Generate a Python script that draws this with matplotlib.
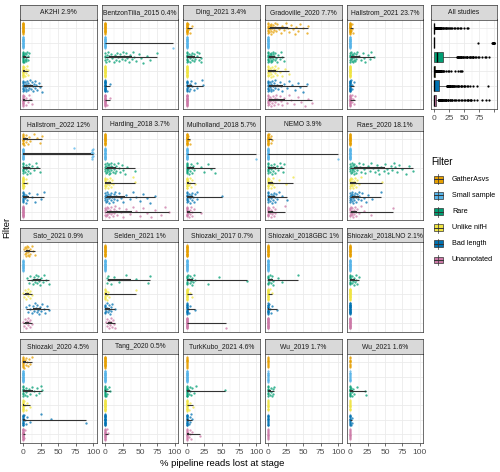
import numpy as np
import matplotlib.pyplot as plt
from matplotlib.patches import Rectangle

plt.rcParams['font.family'] = ['Liberation Sans', 'DejaVu Sans']

# filter stages, top to bottom
filters = ['GatherAsvs', 'Small sample', 'Rare', 'Unlike nifH', 'Bad length', 'Unannotated']
colors = ['#E69F00', '#56B4E9', '#009E73', '#F0E442', '#0072B2', '#CC79A7']

# % reads lost per sample, one list per filter stage
ak2hi = [
    [0] * 25,
    [0] * 25,
    [0] * 12 + [1, 1, 2, 2, 3, 3, 4, 4, 5, 6, 7, 8],
    [0] * 15 + [1, 2, 2, 3, 4, 5, 6, 7],
    [0] * 8 + [1, 1, 2, 2, 3, 3, 4, 5, 5, 6, 7, 8, 9, 10, 11, 12, 13, 14, 15, 16, 17, 18, 20, 22, 24, 26],
    [0] * 15 + [1, 2, 3, 4, 6, 8, 10, 12],
]
bentzon = [
    [0] * 25,
    [0] * 25 + [98],
    [0] * 4 + [1, 2, 3, 4, 5, 6, 8, 10, 12, 14, 15, 17, 18, 20, 22, 24, 25, 27, 28, 30, 32, 34, 35, 38,
               40, 42, 45, 48, 52, 55, 60, 65, 74],
    [0] * 25,
    [0] * 25 + [3, 7],
    [0] * 25 + [2, 7],
]
ding = [
    [0] * 22 + [1, 2, 3, 5, 7],
    [0] * 25,
    [0] * 8 + [1, 2, 3, 4, 5, 6, 7, 8, 9, 10, 11, 12, 14, 15, 17, 18, 20, 21],
    [0] * 25,
    [0] * 10 + [1, 2, 3, 4, 5, 6, 8, 10, 12, 15, 22, 23],
    [0] * 25,
]
gradoville = [
    [0] * 8 + [1, 1, 2, 2, 3, 3, 4, 4, 5, 6, 7, 8, 9, 10, 11, 12, 15, 18, 20, 22, 25, 28, 30, 33, 35, 38,
               40, 43, 45, 50, 55, 57],
    [0] * 25,
    [0] * 8 + [1, 1, 2, 2, 3, 3, 4, 4, 5, 5, 6, 6, 7, 8, 9, 10, 11, 12, 14, 16, 18, 20, 22],
    [0] * 8 + [1, 1, 2, 2, 3, 3, 4, 5, 6, 7, 8, 9, 10, 11, 12, 14, 16, 20, 24, 29],
    [0] * 8 + [1, 1, 2, 2, 3, 3, 4, 5, 6, 7, 8, 9, 10, 12, 14, 16, 18, 20, 23, 26, 30, 34, 38, 42, 46, 50, 56],
    [0] * 8 + [1, 1, 2, 2, 3, 4, 5, 6, 7, 8, 9, 10, 11, 12, 14, 16, 18, 20, 23, 26, 29, 33, 37, 42, 47, 52,
               57, 62],
]
hallstrom21 = [
    [0] * 22 + [1, 2, 3, 4],
    [0] * 25,
    [0] * 6 + [1, 1, 2, 2, 3, 3, 4, 4, 5, 5, 6, 7, 8, 9, 10, 12, 15, 18, 20, 22, 25, 28, 30, 34],
    [0] * 25,
    [0] * 20 + [1, 2, 3, 5],
    [0] * 18 + [1, 2, 3, 4, 5, 7],
]
hallstrom22 = [
    [0] * 12 + [1, 2, 3, 4, 5, 6, 8, 10, 15, 20, 24, 26],
    [0] * 20 + [73, 97, 98, 98, 99, 99, 99, 100, 100, 100],
    [0] * 8 + [1, 2, 3, 4, 5, 6, 7, 8, 9, 10, 12, 15, 18, 20, 24],
    [0] * 22 + [1, 3, 5],
    [0] * 10 + [1, 2, 3, 4, 5, 8, 12, 16, 20, 25, 30],
    [0] * 25,
]
harding = [
    [0] * 25,
    [0] * 25,
    [0] * 4 + [1, 1, 2, 2, 3, 3, 4, 4, 5, 5, 6, 6, 7, 7, 8, 8, 9, 10, 11, 12, 13, 14, 15, 16, 18, 20, 22,
               24, 26, 28, 31, 43],
    [0] * 8 + [1, 1, 2, 3, 4, 5, 6, 7, 8, 9, 10, 11, 40, 43],
    [0] * 4 + [1, 1, 2, 2, 3, 3, 4, 5, 6, 7, 8, 9, 10, 11, 12, 13, 14, 15, 17, 20, 23, 26, 30, 35, 40, 45,
               50, 55, 60, 65, 72],
    [0] * 4 + [1, 1, 2, 2, 3, 3, 4, 5, 6, 7, 8, 9, 10, 11, 12, 13, 14, 15, 17, 20, 23, 26, 30, 35, 40, 45,
               50, 55, 60, 66, 72, 80, 86, 92],
]
mulholland = [
    [0] * 22 + [1, 2, 3, 5],
    [0] * 25 + [100],
    [0] * 10 + [1, 2, 3, 4, 5, 6, 7, 8, 9, 10, 15, 20, 25, 30, 35, 40],
    [0] * 12 + [1, 2, 3, 4, 5, 6, 8, 12],
    [0] * 8 + [1, 2, 3, 4, 5, 6, 7, 8, 9, 10, 12, 14, 15, 51],
    [0] * 10 + [1, 2, 3, 4, 5, 6, 7, 8, 10, 20],
]
nemo = [
    [0] * 20 + [1, 2, 3, 4, 5],
    [0] * 25 + [100],
    [0] * 8 + [1, 2, 3, 4, 5, 6, 7, 8, 9, 10, 12, 14, 16, 18, 21, 23],
    [0] * 10 + [1, 2, 3, 4, 5, 6, 7, 8, 15, 25, 35],
    [0] * 8 + [1, 2, 3, 4, 5, 6, 7, 8, 9, 10, 11, 12, 15, 20, 26],
    [0] * 10 + [1, 2, 3, 4, 5, 6, 7, 8, 9, 10, 24],
]
raes = [
    [0] * 25,
    [0] * 25,
    [0] * 4 + [1, 1, 2, 2, 3, 3, 4, 4, 5, 5, 6, 6, 7, 8, 9, 10, 12, 14, 16, 18, 20, 22, 25, 28, 30, 33, 35,
               38, 40, 42, 45, 48, 50, 53, 55, 58, 60, 63, 65, 68, 70, 75, 80, 85, 91],
    [0] * 6 + [1, 1, 2, 2, 3, 3, 4, 5, 6, 7, 8, 9, 10, 12, 15, 46],
    [0] * 5 + [1, 1, 2, 2, 3, 3, 4, 4, 5, 6, 7, 8, 9, 10, 11, 12, 13, 15, 17, 20, 23, 26, 31, 45],
    [0] * 6 + [1, 1, 2, 2, 3, 3, 4, 5, 6, 7, 8, 9, 10, 12, 15, 20, 30, 62],
]
sato = [
    [1, 2, 2, 3, 3, 4, 4, 5, 5, 6, 6, 7, 8, 9, 10, 12, 14, 16],
    [0] * 20,
    [5, 8, 10, 12, 13, 15, 16, 18, 19, 20, 21, 22, 24, 25, 28, 30, 33, 36],
    [0, 1, 2, 3, 4, 5, 6, 7, 8, 9, 10, 12],
    [4, 6, 8, 10, 12, 14, 15, 16, 18, 19, 20, 21, 22, 24, 25, 27, 29, 31, 34, 37],
    [0, 1, 2, 3, 4, 5, 6, 7, 8, 9, 10, 12],
]
selden = [
    [0] * 25,
    [0] * 25,
    [2, 3, 4, 5, 8, 12, 20, 30, 45, 62, 65],
    [0] * 10 + [1, 2, 3, 4, 5, 45],
    [0] * 6 + [1, 2, 3, 4, 5, 6, 7, 8, 9, 10, 14],
    [1, 2, 3, 4, 5, 6, 7, 8, 9, 10, 11, 12, 14],
]
shiozaki17 = [
    [0] * 25,
    [0] * 25,
    [0] * 6 + [1, 2, 3, 4, 5, 6, 7, 8, 9, 10, 12, 31, 47, 86],
    [0] * 20 + [2, 4, 7],
    [0] * 15 + [1, 2, 3, 5, 12],
    [0] * 25 + [57],
]
shiozaki18g = [
    [0] * 25,
    [0] * 25,
    [0] * 6 + [1, 2, 3, 4, 5, 6, 7, 14, 20, 43],
    [0] * 20 + [2, 5],
    [0] * 15 + [1, 2, 3, 5, 12],
    [0] * 25,
]
shiozaki18l = [
    [0] * 25,
    [0] * 25,
    [0] * 8 + [1, 2, 3, 4, 5, 6, 7, 8, 9, 10, 12],
    [0] * 25,
    [0] * 25,
    [0] * 25,
]
shiozaki20 = [
    [0] * 12 + [1, 2, 3, 4, 5, 6, 8, 10, 12],
    [0] * 25,
    [0] * 8 + [1, 2, 3, 4, 5, 8, 10, 12, 15, 18, 20, 22, 25, 26],
    [0] * 15 + [1, 2, 3, 5, 9],
    [0] * 15 + [1, 2, 3, 5, 9, 25, 40, 90],
    [0] * 22 + [1, 2],
]
tang = [
    [0] * 25,
    [0] * 25,
    [0] * 12 + [1, 2, 3, 5, 7],
    [0] * 25,
    [0] * 25,
    [0] * 20 + [2, 4],
]
turkkubo = [
    [0] * 14,
    [0] * 25,
    [0] * 12 + [1, 2, 3, 4, 5, 6, 8, 10, 13, 55],
    [0] * 15 + [1, 2, 3, 4, 9],
    [0] * 15 + [1, 2, 3, 4, 5, 6, 8],
    [0] * 12 + [1, 2, 3, 4, 5, 6, 8, 19],
]
wu19 = [
    [0] * 12,
    [0] * 14,
    [0] * 8 + [1, 2, 3, 4, 5, 6, 7, 8],
    [0] * 12,
    [0] * 14,
    [0] * 12,
]
wu21 = [
    [0] * 10,
    [0] * 12,
    [0] * 10 + [1, 2, 3, 4, 5, 10, 21, 23],
    [0] * 12,
    [0] * 12 + [1, 2, 3],
    [0] * 12,
]

studies = [
    ('AK2HI 2.9%', ak2hi), ('BentzonTilia_2015 0.4%', bentzon), ('Ding_2021 3.4%', ding),
    ('Gradoville_2020 7.7%', gradoville), ('Hallstrom_2021 23.7%', hallstrom21),
    ('Hallstrom_2022 12%', hallstrom22), ('Harding_2018 3.7%', harding),
    ('Mulholland_2018 5.7%', mulholland), ('NEMO 3.9%', nemo), ('Raes_2020 18.1%', raes),
    ('Sato_2021 0.9%', sato), ('Selden_2021 1%', selden), ('Shiozaki_2017 0.7%', shiozaki17),
    ('Shiozaki_2018GBC 1%', shiozaki18g), ('Shiozaki_2018LNO 2.1%', shiozaki18l),
    ('Shiozaki_2020 4.5%', shiozaki20), ('Tang_2020 0.5%', tang), ('TurkKubo_2021 4.6%', turkkubo),
    ('Wu_2019 1.7%', wu19), ('Wu_2021 1.6%', wu21),
]

W, H = 500, 472
fig = plt.figure(figsize=(W / 100, H / 100), dpi=100)


def px_axes(x, y, w, h):
    """Axes placed with pixel coords measured from the top-left corner."""
    return fig.add_axes([x / W, 1 - (y + h) / H, w / W, h / H])


def make_strip(x, y, w, h, label):
    s = px_axes(x, y, w, h)
    s.set_facecolor('#D9D9D9')
    s.set_xticks([])
    s.set_yticks([])
    for sp in s.spines.values():
        sp.set_color('#333333')
        sp.set_linewidth(0.5)
    s.text(0.5, 0.45, label, ha='center', va='center', fontsize=4.9, color='#1A1A1A',
           transform=s.transAxes)


def style_panel(ax, bottom_axis, ticklabels=None):
    ax.set_xlim(-5, 105)
    ax.set_ylim(-0.6, 5.6)
    ax.set_xticks([0, 25, 50, 75, 100])
    if ticklabels is not None:
        ax.set_xticklabels(ticklabels)
    ax.set_xticks([12.5, 37.5, 62.5, 87.5], minor=True)
    ax.set_yticks(range(6))
    ax.grid(which='major', color='#EBEBEB', lw=0.6)
    ax.grid(which='minor', axis='x', color='#EBEBEB', lw=0.3)
    ax.set_axisbelow(True)
    for sp in ax.spines.values():
        sp.set_color('#333333')
        sp.set_linewidth(0.5)
    ax.tick_params(axis='y', left=False, labelleft=False)
    ax.tick_params(axis='x', which='minor', bottom=False)
    if bottom_axis:
        ax.tick_params(axis='x', length=2.5, width=0.5, color='#333333', labelsize=6,
                       labelcolor='#4D4D4D', pad=1.5)
    else:
        ax.tick_params(axis='x', bottom=False, labelbottom=False)


col_x = [20, 101.7, 183.3, 265, 346.7]
row_y = [5, 116.3, 227.7, 339]
panel_w, strip_h, panel_h = 76.5, 14.5, 89.5

for i, (label, groups) in enumerate(studies):
    r, c = divmod(i, 5)
    x, y = col_x[c], row_y[r]
    make_strip(x, y, panel_w, strip_h, label)
    ax = px_axes(x, y + strip_h, panel_w, panel_h)
    style_panel(ax, bottom_axis=(r == 3))
    for j, vals in enumerate(groups):
        vals = np.asarray(vals, dtype=float)
        ypos = 5 - j
        # vertical jitter, evenly spread within +-0.4 of the row
        k = np.arange(1, len(vals) + 1)
        jit = ((k * 0.6180339887) % 1 - 0.5) * 0.8
        ax.scatter(vals, ypos + jit, s=2.8, color=colors[j], alpha=0.75, linewidths=0, zorder=2)
        if vals.max() > vals.min():
            ax.plot([vals.min(), vals.max()], [ypos, ypos], color='#333333', lw=0.8, zorder=3,
                    solid_capstyle='butt')
            q1, q3 = np.percentile(vals, [25, 75])
            if q3 > q1:
                ax.plot([q1, q3], [ypos, ypos], color='#333333', lw=1.5, zorder=3,
                        solid_capstyle='butt')

# "All studies" panel: every sample pooled
make_strip(431, 5, 66, strip_h, 'All studies')
ax = px_axes(431, 5 + strip_h, 66, panel_h)
pooled = [np.concatenate([np.asarray(g[j], dtype=float) for _, g in studies]) for j in range(6)]
bp = ax.boxplot(pooled, positions=[5, 4, 3, 2, 1, 0], orientation='horizontal', widths=0.75,
                patch_artist=True, showcaps=False, manage_ticks=False,
                medianprops=dict(color='black', lw=1),
                whiskerprops=dict(color='#333333', lw=0.5),
                flierprops=dict(marker='o', markersize=1.6, markerfacecolor='black',
                                markeredgewidth=0))
for patch, col in zip(bp['boxes'], colors):
    patch.set_facecolor(col)
    patch.set_edgecolor('#333333')
    patch.set_linewidth(0.5)
style_panel(ax, bottom_axis=True, ticklabels=['0', '25', '50', '75', ''])

# legend drawn in pixel space
leg = fig.add_axes([0, 0, 1, 1])
leg.set_xlim(0, W)
leg.set_ylim(H, 0)
leg.axis('off')
leg.text(431, 162, 'Filter', fontsize=7, va='center', ha='left', color='black')
for j, (name, col) in enumerate(zip(filters, colors)):
    yc = 179.3 + 16.1 * j
    leg.plot([438, 438], [yc - 5, yc + 5], color='#333333', lw=0.5)
    leg.add_patch(Rectangle((433.5, yc - 3.3), 9, 6.6, facecolor=col, edgecolor='#333333', lw=0.5))
    leg.plot([433.5, 442.5], [yc, yc], color='#333333', lw=0.7)
    leg.text(452, yc, name, fontsize=5.2, va='center', ha='left', color='black')

fig.text(222 / W, 1 - 463 / H, '% pipeline reads lost at stage', ha='center', va='center',
         fontsize=6.8)
fig.text(7 / W, 1 - 227 / H, 'Filter', ha='center', va='center', rotation=90, fontsize=6.8)

fig.savefig('out.png', dpi=100)
